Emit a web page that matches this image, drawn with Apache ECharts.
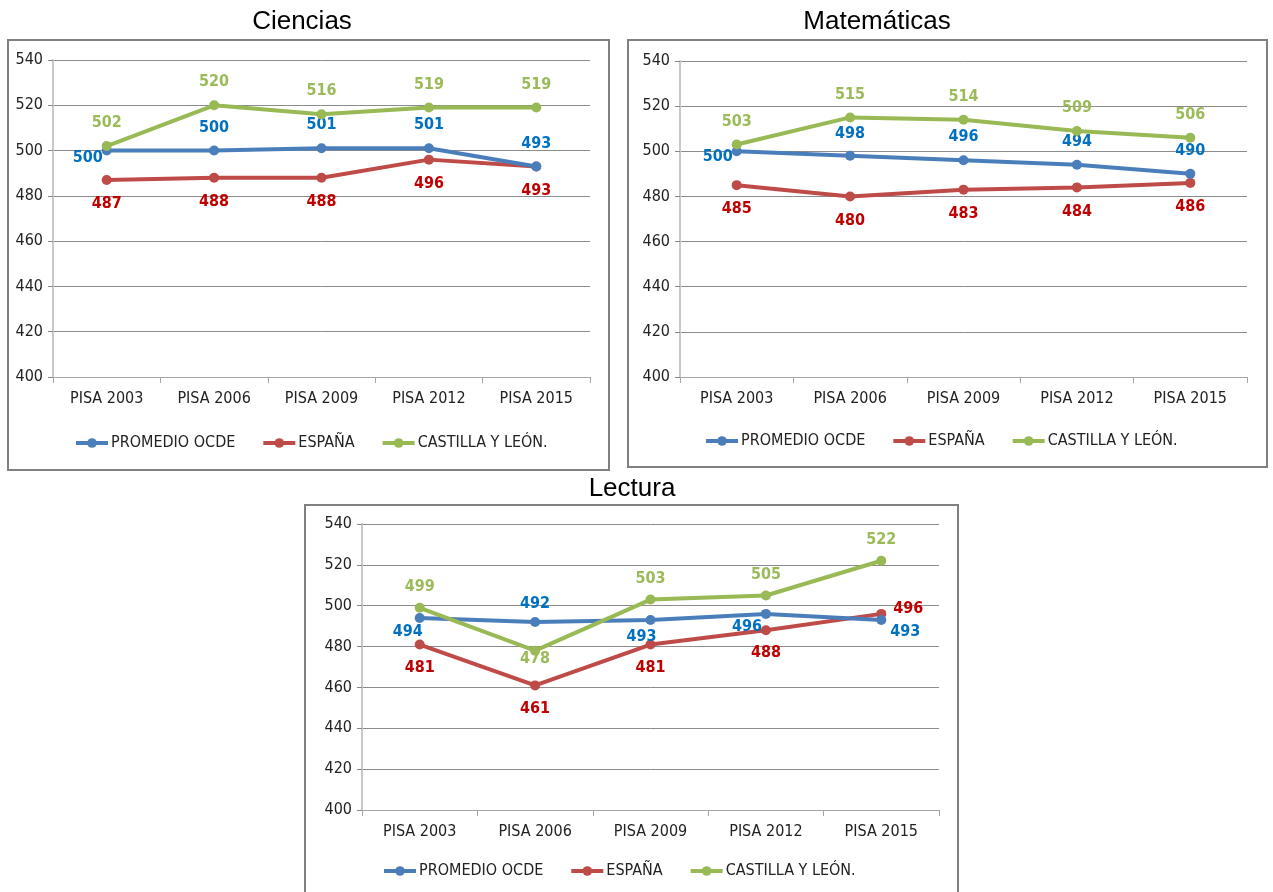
<!DOCTYPE html>
<html>
<head>
<meta charset="utf-8">
<script src="https://cdn.jsdelivr.net/npm/echarts@6/dist/echarts.min.js"></script>
<style>html,body{margin:0;padding:0;background:#fff}#c{width:1273px;height:892px}</style>
</head>
<body>
<div id="c"></div>
<script>
var categories = ['PISA 2003', 'PISA 2006', 'PISA 2009', 'PISA 2012', 'PISA 2015'];
var seriesNames = ['PROMEDIO OCDE', 'ESPAÑA', 'CASTILLA Y LEÓN.'];
var yTicks = [400, 420, 440, 460, 480, 500, 520, 540];

var cienciasOCDE = [500, 500, 501, 501, 493];
var cienciasEspana = [487, 488, 488, 496, 493];
var cienciasCyL = [502, 520, 516, 519, 519];

var matematicasOCDE = [500, 498, 496, 494, 490];
var matematicasEspana = [485, 480, 483, 484, 486];
var matematicasCyL = [503, 515, 514, 509, 506];

var lecturaOCDE = [494, 492, 493, 496, 493];
var lecturaEspana = [481, 461, 481, 488, 496];
var lecturaCyL = [499, 478, 503, 505, 522];

// label offsets (style, not data): [dx, dy] from point
var UP = [0, -23], DN = [0, 24];
var labelOffsets = {
  ciencias: [
    [[-19, 7], UP, UP, UP, UP],
    [DN, DN, DN, DN, DN],
    [UP, UP, UP, UP, UP]
  ],
  matematicas: [
    [[-19, 6], [0, -22], UP, UP, UP],
    [DN, DN, DN, DN, DN],
    [UP, UP, UP, UP, UP]
  ],
  lectura: [
    [[-12, 14], [0, -18], [-9, 17], [-19, 13], [24, 12]],
    [[0, 23], [0, 23], [0, 23], [0, 23], [27, -5]],
    [[0, -21], [0, 8], [0, -21], [0, -21], [0, -21]]
  ]
};

var lineColors = ['#4A7EBB', '#BE4B48', '#98B954'];
var labelColors = ['#0070C0', '#C00000', '#9BBB59'];
var FONT = "'Liberation Sans Narrow', 'DejaVu Sans Condensed', 'Noto Sans', sans-serif";

var panels = [
  { key: 'ciencias', title: 'Ciencias', tx: 302, ty: 22, box: [8, 40, 601, 430],
    grid: { left: 53, top: 60, width: 537, height: 317 }, legendLeft: 69, legendTop: 430,
    data: [cienciasOCDE, cienciasEspana, cienciasCyL] },
  { key: 'matematicas', title: 'Matemáticas', tx: 877, ty: 22, box: [628, 40, 639, 427],
    grid: { left: 680, top: 61, width: 567, height: 316 }, legendLeft: 699, legendTop: 428,
    data: [matematicasOCDE, matematicasEspana, matematicasCyL] },
  { key: 'lectura', title: 'Lectura', tx: 632, ty: 489, box: [305, 505, 653, 400],
    grid: { left: 362, top: 524, width: 577, height: 286 }, legendLeft: 377, legendTop: 858,
    data: [lecturaOCDE, lecturaEspana, lecturaCyL] }
];

var option = {
  animation: false,
  backgroundColor: '#fff',
  grid: [], xAxis: [], yAxis: [], series: [], legend: [], graphic: []
};

panels.forEach(function (p, gi) {
  option.graphic.push({
    type: 'rect', shape: { x: p.box[0], y: p.box[1], width: p.box[2], height: p.box[3] },
    style: { fill: 'none', stroke: '#808080', lineWidth: 2 }, z: 0
  });
  option.graphic.push({
    type: 'text', x: p.tx, y: p.ty,
    style: { text: p.title, font: '26px "Liberation Sans", Arial, sans-serif', fill: '#000',
      textAlign: 'center', textVerticalAlign: 'middle' }
  });
  option.grid.push(p.grid);
  option.xAxis.push({
    type: 'category', gridIndex: gi, data: categories, boundaryGap: true,
    axisLine: { lineStyle: { color: '#A6A6A6', width: 1 } },
    axisTick: { show: true, length: 6, inside: false, lineStyle: { color: '#A6A6A6' } },
    axisLabel: { color: '#222', fontSize: 16, fontFamily: FONT, margin: 14 }
  });
  option.yAxis.push({
    type: 'value', gridIndex: gi, min: yTicks[0], max: yTicks[yTicks.length - 1], interval: 20,
    axisLine: { show: true, lineStyle: { color: '#C8C8C8', width: 2 } },
    axisTick: { show: true, length: 5, lineStyle: { color: '#888' } },
    axisLabel: { color: '#222', fontSize: 16, fontFamily: FONT, margin: 10 },
    splitLine: { lineStyle: { color: '#8C8C8C', width: 1 } }
  });
  p.data.forEach(function (vals, si) {
    var offs = labelOffsets[p.key][si];
    option.series.push({
      type: 'line', name: seriesNames[si], xAxisIndex: gi, yAxisIndex: gi,
      symbol: 'circle', symbolSize: 10,
      lineStyle: { color: lineColors[si], width: 4 },
      itemStyle: { color: lineColors[si] },
      z: si === 0 ? 4 : (si === 1 ? 3 : 5),
      data: vals.map(function (v, i) {
        return { value: v, label: { offset: offs[i] } };
      }),
      label: {
        show: true, position: 'inside', color: labelColors[si],
        fontSize: 16, fontWeight: 'bold', fontFamily: FONT
      }
    });
  });
  option.legend.push({
    left: p.legendLeft, top: p.legendTop, itemWidth: 32, itemHeight: 12, itemGap: 26,
    data: seriesNames.map(function (n, i) {
      return { name: n, itemStyle: { color: lineColors[i] }, lineStyle: { color: lineColors[i], width: 4 } };
    }),
    textStyle: { color: '#222', fontSize: 16, fontFamily: FONT, padding: [0, 0, 0, -2] },
    selectedMode: false
  });
});

var chart = echarts.init(document.getElementById('c'), null, { renderer: 'canvas' });
chart.setOption(option);
</script>
</body>
</html>
